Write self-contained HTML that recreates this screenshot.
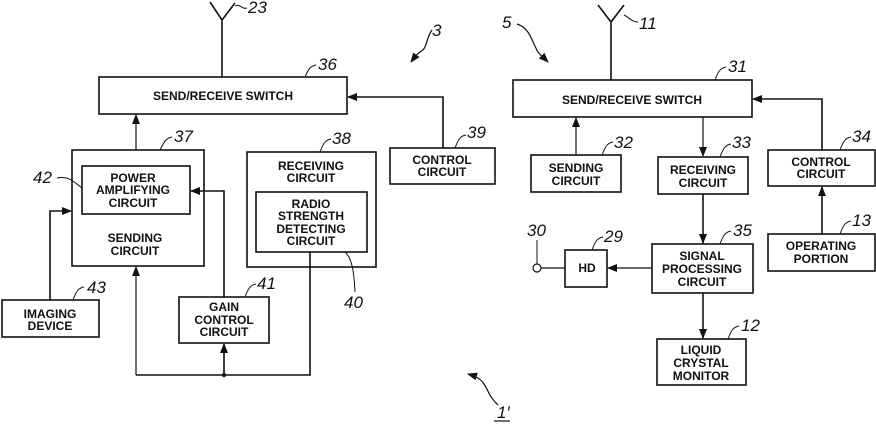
<!DOCTYPE html>
<html><head><meta charset="utf-8"><style>
html,body{margin:0;padding:0;background:#fff;}
svg{display:block;}
text{font-family:"Liberation Sans",Arial,sans-serif;}
.b{font-weight:bold;font-size:12px;text-anchor:middle;fill:#111;}
.n{font-style:italic;font-size:17px;fill:#111;}
</style></head><body>
<svg width="876" height="424" viewBox="0 0 876 424" xmlns="http://www.w3.org/2000/svg">
<defs><marker id="a" markerWidth="10" markerHeight="8" refX="9" refY="4" orient="auto" markerUnits="userSpaceOnUse"><path d="M0,0 L10,4 L0,8 z" fill="#111"/></marker></defs>
<g fill="none" stroke="#111" stroke-width="1.6">
<path d="M210,2 L222,20 L235,3 M222,20 V77"/>
<path d="M235,6 C240,3 242,10 247,8" stroke-width="1"/>
<rect x="99" y="77" width="248" height="37"/>
<path d="M305,77 C308,70 310,66 316,65" stroke-width="1"/>
<rect x="72" y="150" width="132" height="116"/>
<path d="M160,150 C164,142 166,138 172,137" stroke-width="1"/>
<rect x="82" y="166" width="108" height="48"/>
<rect x="247" y="152" width="129" height="115"/>
<path d="M320,152 C323,144 325,140 331,139" stroke-width="1"/>
<rect x="256" y="192" width="111" height="60"/>
<rect x="390" y="148" width="105" height="36"/>
<path d="M455,148 C458,140 460,136 466,135" stroke-width="1"/>
<rect x="2" y="300" width="97" height="37"/>
<path d="M73,300 C76,292 78,288 84,287" stroke-width="1"/>
<rect x="179" y="297" width="90" height="46"/>
<path d="M245,297 C248,289 250,285 256,284" stroke-width="1"/>
<path d="M57,178 C68,176 72,180 82,188" stroke-width="1"/>
<path d="M345,252 C352,258 354,272 355,292" stroke-width="1"/>
<path d="M136,150 V115" marker-end="url(#a)" stroke-width="1.2"/>
<path d="M443,148 V97 H348" marker-end="url(#a)"/>
<path d="M50,300 V211 H71" marker-end="url(#a)"/>
<path d="M224,297 V191 H191" marker-end="url(#a)"/>
<path d="M136,375 H310 V252"/>
<path d="M136,375 V267" marker-end="url(#a)" stroke-width="1.2"/>
<path d="M224,375 V344" marker-end="url(#a)"/>
<path d="M432,30 C425,40 428,48 420,52 C416,55 414,58 411,62" stroke-width="1.2" marker-end="url(#a)"/>
<path d="M598,5 L611,22 L624,5 M611,22 V80"/>
<path d="M624,15 C630,18 632,22 638,22" stroke-width="1"/>
<rect x="513" y="80" width="239" height="37"/>
<path d="M715,80 C718,72 720,68 726,67" stroke-width="1"/>
<rect x="531" y="155" width="90" height="37"/>
<path d="M602,155 C605,147 607,143 613,142" stroke-width="1"/>
<rect x="658" y="157" width="90" height="37"/>
<path d="M720,157 C723,149 725,145 731,144" stroke-width="1"/>
<rect x="768" y="150" width="107" height="36"/>
<path d="M840,150 C843,142 845,138 851,137" stroke-width="1"/>
<rect x="768" y="234" width="107" height="37"/>
<path d="M840,234 C843,226 845,222 851,221" stroke-width="1"/>
<rect x="652" y="244" width="101" height="49"/>
<path d="M720,244 C723,236 725,232 731,231" stroke-width="1"/>
<rect x="565" y="250" width="42" height="37"/>
<path d="M592,250 C595,242 597,238 603,237" stroke-width="1"/>
<rect x="657" y="339" width="89" height="46"/>
<path d="M728,339 C731,331 733,327 739,326" stroke-width="1"/>
<path d="M576,155 V118" marker-end="url(#a)" stroke-width="1.2"/>
<path d="M703,117 V156" marker-end="url(#a)" stroke-width="1.2"/>
<path d="M822,150 V99 H753" marker-end="url(#a)"/>
<path d="M822,234 V187" marker-end="url(#a)"/>
<path d="M703,194 V243" marker-end="url(#a)"/>
<path d="M703,293 V338" marker-end="url(#a)"/>
<path d="M652,268 H608" marker-end="url(#a)" stroke-width="1.2"/>
<path d="M565,268 H541" stroke-width="1.2"/>
<circle cx="537" cy="268" r="4" stroke-width="1.2"/>
<path d="M537,240 V264" stroke-width="1"/>
<path d="M517,24 C530,28 532,42 538,52 C541,56 544,58 548,62" stroke-width="1.2" marker-end="url(#a)"/>
<path d="M498,405 C490,398 488,390 484,384 C480,378 475,376 468,374" stroke-width="1.2" marker-end="url(#a)"/>
<path d="M494,421 H510" stroke-width="1.2"/>
</g>
<circle cx="224" cy="375" r="2.2" fill="#111"/>
<text class="b" x="223" y="100">SEND/RECEIVE SWITCH</text>
<text class="b" x="133" y="182">POWER</text>
<text class="b" x="133" y="194">AMPLIFYING</text>
<text class="b" x="133" y="207">CIRCUIT</text>
<text class="b" x="135" y="242">SENDING</text>
<text class="b" x="135" y="255">CIRCUIT</text>
<text class="b" x="311" y="170">RECEIVING</text>
<text class="b" x="311" y="182">CIRCUIT</text>
<text class="b" x="311" y="208">RADIO</text>
<text class="b" x="311" y="220">STRENGTH</text>
<text class="b" x="311" y="233">DETECTING</text>
<text class="b" x="311" y="245">CIRCUIT</text>
<text class="b" x="442" y="164">CONTROL</text>
<text class="b" x="442" y="176">CIRCUIT</text>
<text class="b" x="50" y="318">IMAGING</text>
<text class="b" x="50" y="330">DEVICE</text>
<text class="b" x="224" y="311">GAIN</text>
<text class="b" x="224" y="324">CONTROL</text>
<text class="b" x="224" y="336">CIRCUIT</text>
<text class="b" x="632" y="104">SEND/RECEIVE SWITCH</text>
<text class="b" x="576" y="172">SENDING</text>
<text class="b" x="576" y="185">CIRCUIT</text>
<text class="b" x="703" y="174">RECEIVING</text>
<text class="b" x="703" y="187">CIRCUIT</text>
<text class="b" x="821" y="166">CONTROL</text>
<text class="b" x="821" y="178">CIRCUIT</text>
<text class="b" x="821" y="250">OPERATING</text>
<text class="b" x="821" y="263">PORTION</text>
<text class="b" x="702" y="260">SIGNAL</text>
<text class="b" x="702" y="273">PROCESSING</text>
<text class="b" x="702" y="286">CIRCUIT</text>
<text class="b" x="587" y="272">HD</text>
<text class="b" x="701" y="354">LIQUID</text>
<text class="b" x="701" y="367">CRYSTAL</text>
<text class="b" x="701" y="380">MONITOR</text>
<text class="n" x="248" y="13">23</text>
<text class="n" x="318" y="70">36</text>
<text class="n" x="174" y="142">37</text>
<text class="n" x="332" y="144">38</text>
<text class="n" x="467" y="138">39</text>
<text class="n" x="33" y="183">42</text>
<text class="n" x="87" y="293">43</text>
<text class="n" x="257" y="289">41</text>
<text class="n" x="344" y="308">40</text>
<text class="n" x="432" y="36">3</text>
<text class="n" x="502" y="28">5</text>
<text class="n" x="639" y="29">11</text>
<text class="n" x="728" y="72">31</text>
<text class="n" x="614" y="148">32</text>
<text class="n" x="732" y="148">33</text>
<text class="n" x="852" y="142">34</text>
<text class="n" x="852" y="226">13</text>
<text class="n" x="733" y="236">35</text>
<text class="n" x="604" y="242">29</text>
<text class="n" x="527" y="236">30</text>
<text class="n" x="741" y="331">12</text>
<text class="n" x="497" y="418">1′</text>
</svg>
</body></html>
